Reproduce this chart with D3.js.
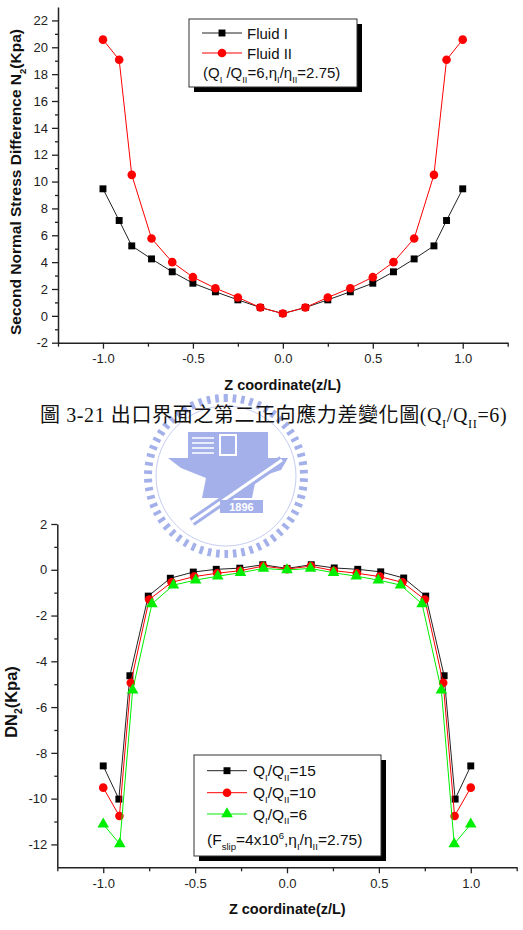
<!DOCTYPE html>
<html>
<head>
<meta charset="utf-8">
<script src="https://cdnjs.cloudflare.com/ajax/libs/d3/7.8.5/d3.min.js"></script>
<style>
body { margin: 0; background: #fff; }
svg text { font-family: Arial, "Liberation Sans", sans-serif; fill: #111; }
</style>
</head>
<body>
<div id="my_dataviz"></div>
<script>
// ---------- data: top chart (N2 vs z/L) ----------
var zTop   = [-1.0, -0.91, -0.84, -0.73, -0.615, -0.5, -0.375, -0.25, -0.125, 0, 0.125, 0.25, 0.375, 0.5, 0.615, 0.73, 0.84, 0.91, 1.0];
var fluidI  = [9.46, 7.10, 5.21, 4.24, 3.28, 2.43, 1.79, 1.19, 0.62, 0.17, 0.62, 1.19, 1.79, 2.43, 3.28, 4.24, 5.21, 7.10, 9.46];
var fluidII = [20.57, 19.07, 10.5, 5.76, 4.0, 2.88, 2.06, 1.37, 0.62, 0.17, 0.62, 1.37, 2.06, 2.88, 4.0, 5.76, 10.5, 19.07, 20.57];
var topYTicks = [-2, 0, 2, 4, 6, 8, 10, 12, 14, 16, 18, 20, 22];

// ---------- data: bottom chart (DN2 vs z/L) ----------
var zQ15 = [-1.0, -0.915, -0.855, -0.755, -0.635, -0.51, -0.385, -0.257, -0.132, 0, 0.132, 0.257, 0.385, 0.51, 0.635, 0.755, 0.855, 0.915, 1.0];
var zQ10 = [-1.0, -0.912, -0.85, -0.75, -0.628, -0.505, -0.38, -0.255, -0.13, 0, 0.13, 0.255, 0.38, 0.505, 0.628, 0.75, 0.85, 0.912, 1.0];
var zQ6  = [-1.0, -0.91, -0.84, -0.735, -0.618, -0.497, -0.377, -0.253, -0.128, 0, 0.128, 0.253, 0.377, 0.497, 0.618, 0.735, 0.84, 0.91, 1.0];
var dnQ15 = [-8.57, -10.02, -4.63, -1.15, -0.37, -0.10, 0.02, 0.07, 0.22, 0.06, 0.22, 0.08, 0.02, -0.09, -0.36, -1.15, -4.63, -10.02, -8.57];
var dnQ10 = [-9.52, -10.76, -4.94, -1.30, -0.55, -0.30, -0.15, -0.04, 0.16, 0.03, 0.16, -0.04, -0.15, -0.30, -0.55, -1.30, -4.94, -10.76, -9.52];
var dnQ6  = [-11.12, -11.98, -5.26, -1.49, -0.67, -0.45, -0.28, -0.13, 0.06, -0.01, 0.06, -0.13, -0.28, -0.45, -0.67, -1.49, -5.26, -11.98, -11.12];
var botYTicks = [-12, -10, -8, -6, -4, -2, 0, 2];

var xTicks = [-1.0, -0.5, 0, 0.5, 1.0];
var xMinor = [-1.25, -0.75, -0.25, 0.25, 0.75, 1.25];

var svg = d3.select("#my_dataviz")
  .append("svg")
    .attr("width", 523)
    .attr("height", 930);

// text with sub/superscripts: parts = [[text, ""|"sub"|"sup"], ...]
function richText(t, parts, size) {
  var off = 0;
  parts.forEach(function(p) {
    var target = p[1] == "sub" ? size * 0.32 : (p[1] == "sup" ? -size * 0.4 : 0);
    var ts = t.append("tspan").text(p[0]).attr("dy", target - off);
    if (p[1]) ts.attr("font-size", size * 0.62);
    off = target;
  });
  return t;
}

function drawAxes(x, y, yTicks, yMinor) {
  var g = svg.append("g");
  var x0 = x.range()[0], y0 = y.range()[0];

  g.append("g").attr("transform", "translate(0," + y0 + ")")
    .call(d3.axisBottom(x).tickValues(xTicks).tickSize(6).tickSizeOuter(0).tickPadding(5)
      .tickFormat(function(d) { return d.toFixed(1); }));
  g.append("g").attr("transform", "translate(0," + y0 + ")")
    .call(d3.axisBottom(x).tickValues(xMinor).tickSize(4).tickFormat(""))
    .select(".domain").remove();

  g.append("g").attr("transform", "translate(" + x0 + ",0)")
    .call(d3.axisLeft(y).tickValues(yTicks).tickSize(6).tickSizeOuter(0).tickPadding(4)
      .tickFormat(function(d) { return String(d); }));
  g.append("g").attr("transform", "translate(" + x0 + ",0)")
    .call(d3.axisLeft(y).tickValues(yMinor).tickSize(3).tickFormat(""))
    .select(".domain").remove();

  g.selectAll(".domain").attr("stroke", "#222").attr("stroke-width", 1.5);
  g.selectAll(".tick line").attr("stroke", "#222").attr("stroke-width", 1.3);
  g.selectAll(".tick text").attr("font-size", 13).style("fill", "#222");
}

function drawSeries(x, y, xs, ys, color, lineColor, symbol, size) {
  var pts = xs.map(function(d, i) { return [d, ys[i]]; });
  svg.append("path")
    .datum(pts)
    .attr("fill", "none")
    .attr("stroke", lineColor)
    .attr("stroke-width", 1)
    .attr("d", d3.line().x(function(d) { return x(d[0]); }).y(function(d) { return y(d[1]); }));
  svg.append("g").selectAll("path")
    .data(pts)
    .enter()
    .append("path")
      .attr("transform", function(d) { return "translate(" + x(d[0]) + "," + y(d[1]) + ")"; })
      .attr("d", d3.symbol().type(symbol).size(size))
      .attr("fill", color);
}

function legendBox(x0, y0, w, h) {
  svg.append("rect").attr("x", x0 + 5).attr("y", y0 + 5).attr("width", w).attr("height", h).attr("fill", "#000");
  svg.append("rect").attr("x", x0).attr("y", y0).attr("width", w).attr("height", h)
    .attr("fill", "#fff").attr("stroke", "#333").attr("stroke-width", 1);
}

function legendRow(lx, ly, color, lineColor, symbol, size) {
  svg.append("line").attr("x1", lx).attr("x2", lx + 40).attr("y1", ly).attr("y2", ly)
    .attr("stroke", lineColor).attr("stroke-width", 1);
  svg.append("path").attr("transform", "translate(" + (lx + 20) + "," + ly + ")")
    .attr("d", d3.symbol().type(symbol).size(size)).attr("fill", color);
}

// ---------- watermark (school emblem) ----------
var wm = svg.append("g").attr("transform", "translate(226,476)");
var wmColor = "#a4b0ea";
d3.range(0, 360, 6.2).forEach(function(a) {
  wm.append("rect").attr("x", -1.8).attr("y", -82).attr("width", 3.6).attr("height", 8)
    .attr("fill", wmColor).attr("transform", "rotate(" + a + ")");
});
wm.append("circle").attr("r", 70).attr("fill", "none").attr("stroke", "#c6cdf2").attr("stroke-width", 1);
wm.append("rect").attr("x", -38).attr("y", -44).attr("width", 80).attr("height", 26).attr("fill", wmColor);
[-38, -33, -28, -23].forEach(function(yy) {
  wm.append("line").attr("x1", -34).attr("x2", -12).attr("y1", yy).attr("y2", yy).attr("stroke", "#fff").attr("stroke-width", 1.5);
});
wm.append("rect").attr("x", -6).attr("y", -41).attr("width", 16).attr("height", 20).attr("fill", "none").attr("stroke", "#fff").attr("stroke-width", 2);
wm.append("path").attr("d", "M-58,-18 L62,-18 L55,-6 L30,2 L26,22 L-24,22 L-20,2 L-45,-8 Z").attr("fill", wmColor);
wm.append("line").attr("x1", -34).attr("y1", 46).attr("x2", 56).attr("y2", -16).attr("stroke", wmColor).attr("stroke-width", 9);
wm.append("line").attr("x1", -34).attr("y1", 46).attr("x2", 56).attr("y2", -16).attr("stroke", "#fff").attr("stroke-width", 3);
wm.append("rect").attr("x", -6).attr("y", 24).attr("width", 43).attr("height", 13).attr("fill", wmColor);
wm.append("text").attr("x", 15.5).attr("y", 35).attr("text-anchor", "middle").attr("font-size", 11)
  .attr("font-weight", "bold").style("fill", "#fff").text("1896");

// ---------- top chart ----------
var x1 = d3.scaleLinear().domain([-1.25, 1.25]).range([58, 507.7]);
var y1 = d3.scaleLinear().domain([-2, 23]).range([342.7, 7]);
drawAxes(x1, y1, topYTicks, [-1, 1, 3, 5, 7, 9, 11, 13, 15, 17, 19, 21]);
drawSeries(x1, y1, zTop, fluidI, "#000", "#222", d3.symbolSquare, 48);
drawSeries(x1, y1, zTop, fluidII, "#ff0000", "#ff0000", d3.symbolCircle, 58);

legendBox(189, 19, 168, 68);
legendRow(202, 33, "#000", "#222", d3.symbolSquare, 48);
legendRow(202, 53, "#ff0000", "#ff0000", d3.symbolCircle, 58);
svg.append("text").attr("x", 247).attr("y", 38.5).attr("font-size", 15).text("Fluid I");
svg.append("text").attr("x", 247).attr("y", 58.5).attr("font-size", 15).text("Fluid II");
richText(svg.append("text").attr("x", 203).attr("y", 78).attr("font-size", 15),
  [["(Q", ""], ["I", "sub"], [" /Q", ""], ["II", "sub"], ["=6,\u03b7", ""], ["I", "sub"], ["/\u03b7", ""], ["II", "sub"], ["=2.75)", ""]], 15);

svg.append("text").attr("x", 282.7).attr("y", 390).attr("text-anchor", "middle")
  .attr("font-size", 14.5).attr("font-weight", "bold").text("Z coordinate(z/L)");
richText(svg.append("text").attr("transform", "translate(21,182) rotate(-90)").attr("text-anchor", "middle")
  .attr("font-size", 15.5).attr("font-weight", "bold"),
  [["Second Normal Stress Difference N", ""], ["2", "sub"], ["(Kpa)", ""]], 15.5);

// caption
var cap = svg.append("text").attr("x", 40).attr("y", 422).attr("font-size", 20)
  .style("font-family", "'Liberation Serif', 'Noto Sans CJK TC', serif");
richText(cap, [["\u5716 3-21 \u51fa\u53e3\u754c\u9762\u4e4b\u7b2c\u4e8c\u6b63\u5411\u61c9\u529b\u5dee\u8b8a\u5316\u5716(Q", ""], ["I", "sub"], ["/Q", ""], ["II", "sub"], ["=6)", ""]], 20);
var capLen = cap.node().getComputedTextLength();
cap.attr("letter-spacing", Math.max(0, (472 - capLen) / 40));

// ---------- bottom chart ----------
var x2 = d3.scaleLinear().domain([-1.25, 1.25]).range([57.3, 516.7]);
var y2 = d3.scaleLinear().domain([-13, 2]).range([867.3, 524]);
drawAxes(x2, y2, botYTicks, [-11, -9, -7, -5, -3, -1, 1]);
drawSeries(x2, y2, zQ15, dnQ15, "#000", "#222", d3.symbolSquare, 48);
drawSeries(x2, y2, zQ10, dnQ10, "#ff0000", "#ff0000", d3.symbolCircle, 58);
drawSeries(x2, y2, zQ6, dnQ6, "#00ee00", "#00ee00", d3.symbolTriangle, 58);

legendBox(194, 755, 187, 101);
legendRow(207, 770.7, "#000", "#222", d3.symbolSquare, 48);
legendRow(207, 792.7, "#ff0000", "#ff0000", d3.symbolCircle, 58);
legendRow(207, 814, "#00ee00", "#00ee00", d3.symbolTriangle, 58);
[["15", 770.7], ["10", 792.7], ["6", 814]].forEach(function(r) {
  richText(svg.append("text").attr("x", 253).attr("y", r[1] + 5.5).attr("font-size", 15.5),
    [["Q", ""], ["I", "sub"], ["/Q", ""], ["II", "sub"], ["=" + r[0], ""]], 15.5);
});
richText(svg.append("text").attr("x", 207).attr("y", 845).attr("font-size", 15.5),
  [["(F", ""], ["slip", "sub"], ["=4x10", ""], ["6", "sup"], [",\u03b7", ""], ["I", "sub"], ["/\u03b7", ""], ["II", "sub"], ["=2.75)", ""]], 15.5);

svg.append("text").attr("x", 287.3).attr("y", 914).attr("text-anchor", "middle")
  .attr("font-size", 14.5).attr("font-weight", "bold").text("Z coordinate(z/L)");
richText(svg.append("text").attr("transform", "translate(17,702) rotate(-90)").attr("text-anchor", "middle")
  .attr("font-size", 16.5).attr("font-weight", "bold"),
  [["DN", ""], ["2", "sub"], ["(Kpa)", ""]], 16.5);
</script>
</body>
</html>
